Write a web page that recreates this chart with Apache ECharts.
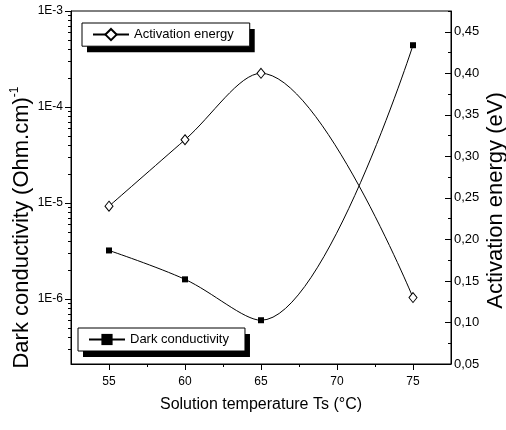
<!DOCTYPE html>
<html>
<head>
<meta charset="utf-8">
<script src="https://cdn.jsdelivr.net/npm/echarts@6/dist/echarts.min.js"></script>
<style>
  html, body { margin: 0; padding: 0; background: #fff; }
  #chart { width: 506px; height: 430px; }
</style>
</head>
<body>
<div id="chart"></div>
<script>
// data
var temperatures = [55, 60, 65, 75];
var activationEnergy = [0.24, 0.32, 0.40, 0.13];        // eV, right axis
var darkConductivity = [3.2e-6, 1.6e-6, 6.0e-7, 4.4e-4]; // (Ohm.cm)^-1, left axis (log)

// tick labels
var tempTicks = [55, 60, 65, 70, 75];
var tempMinorTicks = [57.5, 62.5, 67.5, 72.5];
var decadeTicks = [-6, -5, -4, -3];
var energyTicks = [0.05, 0.10, 0.15, 0.20, 0.25, 0.30, 0.35, 0.40, 0.45];
var energyMinorTicks = [0.075, 0.125, 0.175, 0.225, 0.275, 0.325, 0.375, 0.425, 0.475];

var FONT = "'Liberation Sans', Arial, sans-serif";
var logMin = Math.log10(2.1e-7);
var logMax = -3;

// minor log ticks at 2..9 x 10^n
var decadeMinorTicks = [];
for (var n = -7; n <= -4; n++) {
    for (var k = 2; k <= 9; k++) {
        var v = Math.log10(k * Math.pow(10, n));
        if (v > logMin && v < logMax) decadeMinorTicks.push(v);
    }
}

var chart = echarts.init(document.getElementById('chart'));

function pairs(xs, ys, f) {
    var out = [];
    for (var i = 0; i < xs.length; i++) out.push([xs[i], f ? f(ys[i]) : ys[i]]);
    return out;
}

// legend box drawn twice: a shadow-only layer under a border-only layer
function legendBox(name, left, top, shadow) {
    var l = {
        data: [name], left: left, top: top,
        orient: 'horizontal',
        itemWidth: 36,
        itemHeight: 14,
        padding: [5, 16, 5, 10],
        borderRadius: 0,
        textStyle: { fontFamily: FONT, fontSize: 13, color: '#000' }
    };
    if (shadow) {
        l.backgroundColor = '#fff';
        l.borderWidth = 0;
        l.shadowColor = '#000';
        l.shadowBlur = 0;
        l.shadowOffsetX = 5;
        l.shadowOffsetY = 6;
        l.textStyle.color = 'rgba(0,0,0,0)';
        l.itemStyle = { opacity: 0 };
        l.lineStyle = { opacity: 0 };
        l.z = 4;
    } else {
        l.backgroundColor = 'rgba(0,0,0,0)';
        l.borderColor = '#000';
        l.borderWidth = 1;
        l.z = 5;
    }
    return l;
}

var option = {
    backgroundColor: '#fff',
    animation: false,
    grid: {
        left: 71, right: 55, top: 11, bottom: 66,
        outerBoundsMode: 'none',
        show: true, borderColor: '#000', borderWidth: 1
    },
    legend: [
        legendBox('Activation energy', 82, 23, true),
        legendBox('Activation energy', 82, 23, false),
        legendBox('Dark conductivity', 78, 328, true),
        legendBox('Dark conductivity', 78, 328, false)
    ],
    xAxis: [{
        type: 'value', min: 52.5, max: 77.5,
        name: 'Solution temperature Ts (°C)',
        nameLocation: 'middle', nameGap: 33,
        nameMoveOverlap: false,
        nameTextStyle: { fontFamily: FONT, fontSize: 16, color: '#000' },
        axisLine: { lineStyle: { color: '#000', width: 1 } },
        axisTick: { customValues: tempTicks, length: 6, lineStyle: { color: '#000' } },
        axisLabel: { customValues: tempTicks, margin: 12, fontFamily: FONT, fontSize: 12, color: '#000' },
        splitLine: { show: false }
    }, {
        type: 'value', min: 52.5, max: 77.5, position: 'bottom',
        axisLine: { show: false },
        axisTick: { customValues: tempMinorTicks, length: 3, lineStyle: { color: '#000' } },
        axisLabel: { show: false },
        splitLine: { show: false }
    }],
    yAxis: [{
        type: 'value', min: logMin, max: logMax, position: 'left',
        name: '{a|Dark conductivity (Ohm.cm)}{s|-1}',
        nameLocation: 'middle', nameGap: 36,
        nameMoveOverlap: false,
        nameTextStyle: {
            fontFamily: FONT, color: '#000', padding: [0, 80, 0, 0],
            rich: {
                a: { fontFamily: FONT, fontSize: 22, color: '#000', lineHeight: 26 },
                s: { fontFamily: FONT, fontSize: 12, color: '#000', verticalAlign: 'top', lineHeight: 26, padding: [0, 0, 10, 0] }
            }
        },
        axisLine: { show: true, lineStyle: { color: '#000', width: 1 } },
        axisTick: { customValues: decadeTicks, length: 6, lineStyle: { color: '#000' } },
        axisLabel: {
            customValues: decadeTicks, margin: 8, fontFamily: FONT, fontSize: 12, color: '#000',
            formatter: function (v) { return '1E' + Math.round(v); }
        },
        splitLine: { show: false }
    }, {
        type: 'value', min: 0.05, max: 0.475, position: 'right',
        name: 'Activation energy (eV)',
        nameLocation: 'middle', nameGap: 34,
        nameMoveOverlap: false,
        nameTextStyle: { fontFamily: FONT, fontSize: 22, color: '#000', padding: [0, 26, 0, 0] },
        axisLine: { show: true, lineStyle: { color: '#000', width: 1 } },
        axisTick: { customValues: energyTicks, inside: true, length: 6, lineStyle: { color: '#000' } },
        axisLabel: {
            customValues: energyTicks, margin: 3, fontFamily: FONT, fontSize: 13, color: '#000',
            formatter: function (v) { return v.toFixed(2).replace('.', ','); }
        },
        splitLine: { show: false }
    }, {
        type: 'value', min: logMin, max: logMax, position: 'left',
        axisLine: { show: false },
        axisTick: { customValues: decadeMinorTicks, length: 3, lineStyle: { color: '#000' } },
        axisLabel: { show: false },
        splitLine: { show: false }
    }, {
        type: 'value', min: 0.05, max: 0.475, position: 'right',
        axisLine: { show: false },
        axisTick: { customValues: energyMinorTicks, inside: true, length: 3, lineStyle: { color: '#000' } },
        axisLabel: { show: false },
        splitLine: { show: false }
    }],
    series: [{
        name: 'Activation energy',
        type: 'line',
        yAxisIndex: 1,
        smooth: 0.35,
        data: pairs(temperatures, activationEnergy),
        symbol: 'diamond',
        symbolSize: [8, 10],
        itemStyle: { color: '#fff', borderColor: '#000', borderWidth: 1 },
        lineStyle: { color: '#000', width: 1 },
        z: 3
    }, {
        name: 'Dark conductivity',
        type: 'line',
        yAxisIndex: 0,
        smooth: 0.35,
        data: pairs(temperatures, darkConductivity, Math.log10),
        symbol: 'rect',
        symbolSize: 6,
        itemStyle: { color: '#000', borderColor: '#000', borderWidth: 0 },
        lineStyle: { color: '#000', width: 1 },
        z: 3
    }]
};

chart.setOption(option);
</script>
</body>
</html>
